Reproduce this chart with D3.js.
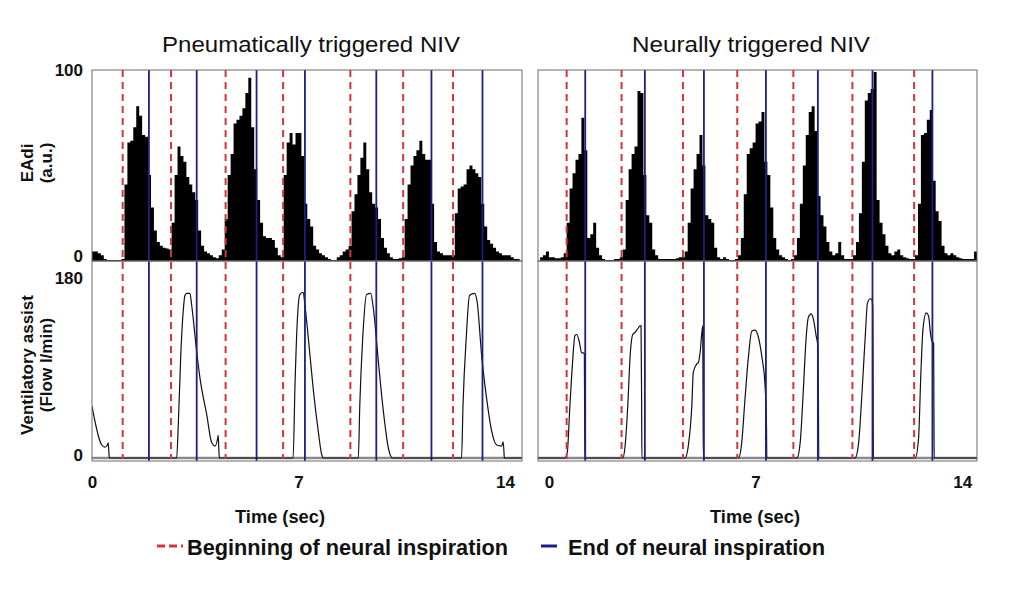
<!DOCTYPE html>
<html><head><meta charset="utf-8">
<script src="https://cdn.jsdelivr.net/npm/d3@7"></script>
<style>
body{margin:0;background:#fff;}
svg{display:block;}
.b{font-family:"Liberation Sans",Arial,sans-serif;font-weight:bold;fill:#111;}
.t{font-family:"Liberation Sans",Arial,sans-serif;font-weight:normal;fill:#111;}
</style></head>
<body>
<script>
// ---------- DATA ----------
const panelTitles = ["Pneumatically triggered NIV", "Neurally triggered NIV"];
const xTicks = [0, 7, 14];
const eadiTicks = [0, 100];
const flowTicks = [0, 180];
const sampleStep = 0.1; // seconds between EAdi samples

// EAdi (a.u.), pneumatically triggered, samples from t = 0.0 s
const eadiPneuStart = 0.0;
const eadiPneu = [5,5,4,3,1,0.5,0.5,0.5,0.5,0.5,
 1,40,62,63,70,81,76,66,65,45,
 28,16,10,8,7,6.5,6,20,45,60,
 55,52,44,40,36,32,16,8,5,4,
 3,2,1.5,3,6,22,45,56,72,74,
 76,80,88,96,70,48,32,20,13,12,
 12,11,7,3,2,45,62,67,61,67,
 67,55,30,22,18,8,6,4,3,2,
 1,0.5,0.5,2,3,5,6,8,26,35,
 45,54,62,48,36,30,28,22,12,7,
 4,2,1,1,1.5,2,22,40,50,55,
 58,63,56,53,53,30,10,5,4,3,
 3,3,3,25,38,39,40,48,50,48,
 46,44,30,18,11,9,7,5,4,3,
 3,3,2,1,1,5];

// EAdi (a.u.), neurally triggered, samples from t = -0.3 s
const eadiNeurStart = -0.3;
const eadiNeur = [2,3,5,2,2,1.5,1.5,2,4,20,
 38,46,53,56,75,58,12,14,20,7,
 3,1,0.5,0.5,0.5,1,1,2,6,32,
 48,56,60,89,88,45,24,20,6,3,
 1,1,1,1,1,1,1.5,2,2,5,
 20,38,48,56,66,50,24,22,20,7,
 2,1,2,1,0.5,0.5,1,3,12,35,
 56,59,62,72,73,78,52,45,28,12,
 6,3,2,1,0.5,1,3,12,30,50,
 66,78,81,68,34,24,18,10,5,3,
 4,10,3,1,1,1,3,10,25,52,
 84,88,90,99,32,20,14,8,4,3,
 5,6,3,2,1.5,1,1,3,30,66,
 67,74,79,42,26,21,8,4,3,4,
 3,2,1.5,1,1,1,1,5,6];

// Flow (l/min), pneumatically triggered: time (s) and value
const flowPneuT = [0,0.10,0.21,0.33,0.44,0.52,0.55,0.57,0.59,2.87,2.93,3.01,3.10,3.15,3.21,3.32,3.38,3.55,3.66,3.89,4.06,4.17,4.26,4.28,4.30,4.32,6.82,6.88,6.96,7.05,7.16,7.22,7.39,7.50,7.67,7.79,7.84,9.03,9.08,9.18,9.31,9.45,9.54,9.71,9.88,10.05,10.19,12.53,12.58,12.69,12.80,12.97,13.06,13.21,13.38,13.55,13.72,13.89,13.94,13.97,13.98,14.58];
const flowPneuV = [48,34,21,12,10,12,14,6,0,0,34,95,138,150,152,152,141,98,74,40,14,11,18,21,8,0,0,64,126,151,153,141,95,64,25,3,0,0,49,111,151,152,138,89,43,9,0,0,49,111,150,152,144,95,55,25,12,11,15,5,0,0];

// Flow (l/min), neurally triggered
const flowNeurT = [-0.37,0.54,0.62,0.71,0.80,0.88,0.94,1.03,1.11,1.16,1.20,1.21,1.22,2.50,2.58,2.67,2.75,2.84,2.92,2.97,3.03,3.08,3.12,3.14,3.15,4.61,4.72,4.84,4.89,5.01,5.06,5.12,5.21,5.22,5.23,6.42,6.53,6.64,6.76,6.87,6.98,7.10,7.21,7.32,7.37,7.38,8.40,8.51,8.62,8.71,8.79,8.88,8.96,9.05,9.11,9.13,9.14,10.37,10.49,10.60,10.71,10.79,10.88,10.94,10.97,10.98,10.99,12.41,12.52,12.60,12.67,12.78,12.86,12.92,12.97,13.03,13.04,13.05,14.5];
const flowNeurV = [0,0,5,48,88,113,114,107,97,97,96,40,0,0,11,48,94,114,116,118,120,122,122,50,0,0,11,48,79,87,88,97,122,60,0,0,14,54,94,117,118,111,94,67,30,0,0,14,64,110,130,133,128,113,103,50,0,0,14,58,110,143,147,146,140,70,0,0,18,79,119,134,131,116,108,106,50,0,0];

// Beginning / end of neural inspiration (s)
const beginPneu = [1.04,2.68,4.53,6.48,8.76,10.55,12.24];
const endPneu   = [1.93,3.55,5.58,7.22,9.64,11.51,13.24];
const beginNeur = [0.60,2.46,4.54,6.38,8.28,10.28,12.37];
const endNeur   = [1.23,3.25,5.25,7.35,9.11,10.96,12.99];

const legendLabels = ["Beginning of neural inspiration", "End of neural inspiration"];
const axisTitles = {eadi:["EAdi","(a.u.)"], flow:["Ventilatory assist","(Flow l/min)"], x:"Time (sec)"};

// ---------- DRAW ----------
const W = 1024, H = 603;
const svg = d3.select("body").append("svg").attr("width", W).attr("height", H);
const RED = "#d5353a", BLUE = "#1c1f86", BORDER = "#6a6a6a";

const topY0 = 70, midY = 261, botY1 = 461;
const yE = d3.scaleLinear().domain([0,100]).range([midY, topY0]);
const yF = d3.scaleLinear().domain([0,180]).range([458, 263]);

const panels = [
  {x0:92, x1:522, dom:[0,14.58], eadi:eadiPneu, eStart:eadiPneuStart, fT:flowPneuT, fV:flowPneuV, beg:beginPneu, end:endPneu, title:panelTitles[0], tx:311, tlen:298, xl:280},
  {x0:538, x1:977, dom:[-0.37,14.5], eadi:eadiNeur, eStart:eadiNeurStart, fT:flowNeurT, fV:flowNeurV, beg:beginNeur, end:endNeur, title:panelTitles[1], tx:751, tlen:238, xl:755}
];

panels.forEach((p, i) => {
  const x = d3.scaleLinear().domain(p.dom).range([p.x0, p.x1]);
  const g = svg.append("g");
  const cid = "clip" + i;
  svg.append("clipPath").attr("id", cid).append("rect")
    .attr("x", p.x0).attr("y", topY0).attr("width", p.x1 - p.x0).attr("height", botY1 - topY0);

  const pts = p.eadi.map((v, k) => ({t: p.eStart + k * sampleStep, v}));
  const area = d3.area().curve(d3.curveStepAfter)
    .x(d => x(d.t)).y0(yE(0)).y1(d => yE(d.v));
  g.append("path").datum(pts).attr("d", area).attr("fill", "#000")
    .attr("clip-path", `url(#${cid})`);

  // zero flow baseline
  g.append("line").attr("x1", p.x0).attr("x2", p.x1).attr("y1", yF(0)).attr("y2", yF(0))
    .attr("stroke", "#8a8a8a").attr("stroke-width", 2.5);

  // flow curve
  const fpts = p.fT.map((t, k) => ({t, v: p.fV[k]}));
  const line = d3.line().curve(d3.curveMonotoneX).x(d => x(d.t)).y(d => yF(d.v));
  g.append("path").datum(fpts).attr("d", line).attr("fill", "none")
    .attr("stroke", "#111").attr("stroke-width", 1.2).attr("clip-path", `url(#${cid})`);

  // markers
  g.selectAll(".beg").data(p.beg).join("line")
    .attr("x1", d => x(d)).attr("x2", d => x(d)).attr("y1", topY0).attr("y2", botY1 - 2)
    .attr("stroke", RED).attr("stroke-width", 2).attr("stroke-dasharray", "7,5");
  g.selectAll(".end").data(p.end).join("line")
    .attr("x1", d => x(d)).attr("x2", d => x(d)).attr("y1", topY0).attr("y2", botY1)
    .attr("stroke", BLUE).attr("stroke-width", 1.8);

  // borders
  g.append("rect").attr("x", p.x0).attr("y", topY0).attr("width", p.x1 - p.x0).attr("height", midY - topY0)
    .attr("fill", "none").attr("stroke", BORDER).attr("stroke-width", 1);
  g.append("rect").attr("x", p.x0).attr("y", midY).attr("width", p.x1 - p.x0).attr("height", botY1 - midY)
    .attr("fill", "none").attr("stroke", BORDER).attr("stroke-width", 1);

  // x axis
  const ax = svg.append("g").attr("transform", `translate(0,${botY1 + 12})`)
    .call(d3.axisBottom(x).tickValues(xTicks).tickSize(0).tickFormat(d3.format("d")));
  ax.select(".domain").remove();
  ax.selectAll("text").attr("class", "b").attr("font-size", 17).attr("dy", "0.71em");

  svg.append("text").attr("class", "b").attr("font-size", 19)
    .attr("x", p.xl).attr("y", 523).attr("text-anchor", "middle")
    .attr("textLength", 90).attr("lengthAdjust", "spacingAndGlyphs").text(axisTitles.x);

  svg.append("text").attr("class", "t").attr("font-size", 22)
    .attr("x", p.tx).attr("y", 52).attr("text-anchor", "middle")
    .attr("textLength", p.tlen).attr("lengthAdjust", "spacingAndGlyphs").text(p.title);
});

// y tick labels (left panel only)
const yl = svg.append("g");
const yLabelPos = {e0: 262, e100: 76, f0: 461, f180: 284};
eadiTicks.forEach(v => {
  yl.append("text").attr("class", "b").attr("font-size", 17).attr("text-anchor", "end")
    .attr("x", 83).attr("y", v === 0 ? yLabelPos.e0 : yLabelPos.e100).text(v);
});
flowTicks.forEach(v => {
  yl.append("text").attr("class", "b").attr("font-size", 17).attr("text-anchor", "end")
    .attr("x", 83).attr("y", v === 0 ? yLabelPos.f0 : yLabelPos.f180).text(v);
});

// y axis titles
function vtitle(lines, cx, cy) {
  lines.forEach((s, k) => {
    svg.append("text").attr("class", "b").attr("font-size", 17).attr("text-anchor", "middle")
      .attr("transform", `translate(${cx + k * 19},${cy}) rotate(-90)`).text(s);
  });
}
vtitle(axisTitles.eadi, 33, 163);
vtitle(axisTitles.flow, 33, 365);

// legend
const lg = svg.append("g");
lg.append("line").attr("x1", 157).attr("x2", 183).attr("y1", 546).attr("y2", 546)
  .attr("stroke", RED).attr("stroke-width", 3).attr("stroke-dasharray", "8,4");
lg.append("text").attr("class", "b").attr("font-size", 22).attr("x", 187).attr("y", 555)
  .attr("textLength", 321).attr("lengthAdjust", "spacingAndGlyphs").text(legendLabels[0]);
lg.append("line").attr("x1", 541).attr("x2", 557).attr("y1", 546).attr("y2", 546)
  .attr("stroke", BLUE).attr("stroke-width", 3);
lg.append("text").attr("class", "b").attr("font-size", 22).attr("x", 568).attr("y", 555)
  .attr("textLength", 257).attr("lengthAdjust", "spacingAndGlyphs").text(legendLabels[1]);
</script>
</body></html>
